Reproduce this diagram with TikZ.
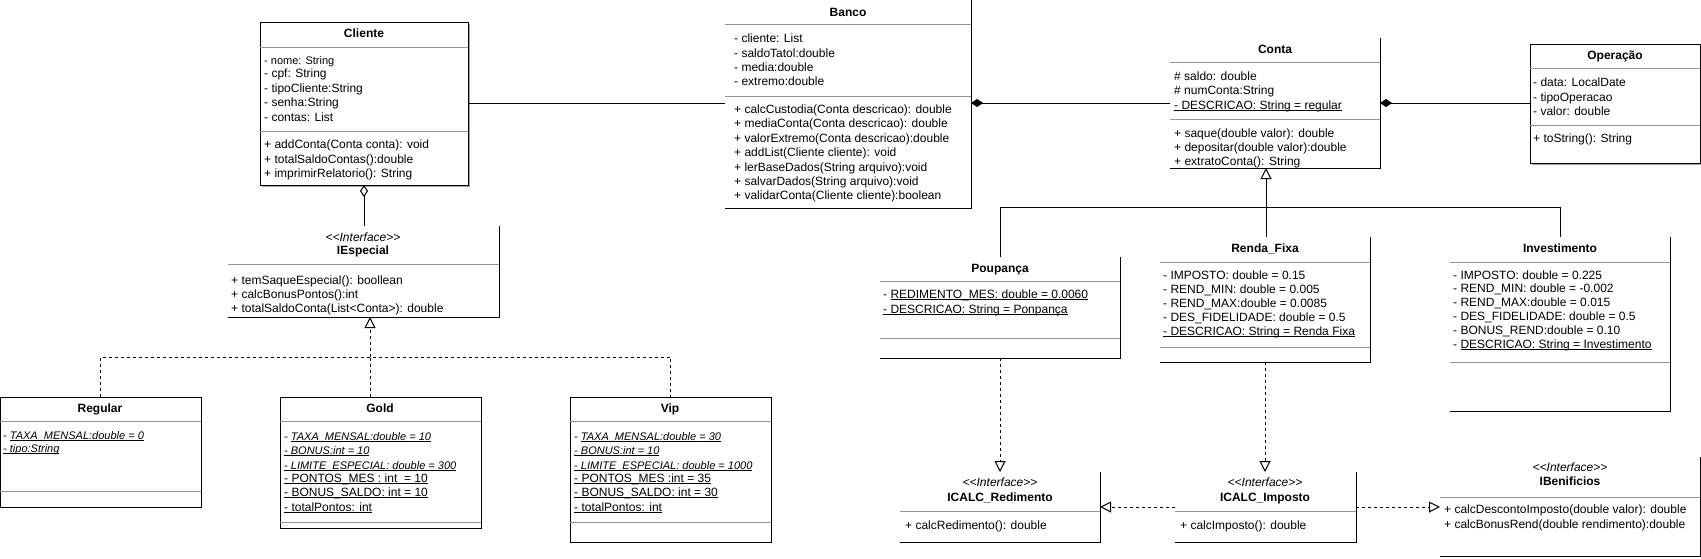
\documentclass[tikz,border=0pt]{standalone}
\usepackage{fontspec}
\setmainfont{Liberation Sans}
\usetikzlibrary{arrows.meta,calc}
\definecolor{sepc}{RGB}{150,150,150}
\definecolor{shad}{RGB}{165,165,165}
\newcounter{utc}
\newcommand\UT[4][txt]{\stepcounter{utc}\node[#1] (t\arabic{utc}) at (#2,#3) {#4};}
\newcommand\Fa{\fontsize{12}{14}\selectfont}
\newcommand\Fb{\fontsize{11}{13}\selectfont}
\newsavebox\ulbox
\newcommand\ul[1]{\sbox\ulbox{#1}\rlap{\rule[-1.8pt]{\wd\ulbox}{0.8pt}}\usebox\ulbox}
\newcommand\umlbox[5]{\node[clsbox,minimum width={(#4)-(#2)},minimum height={(#5)-(#3)}] (#1) at ({((#2)+(#4))/2},{((#3)+(#5))/2}) {};}
\newcommand\rbedge[1]{\draw[edge] (#1.north east) -- (#1.south east) -- (#1.south west);}
\newcommand\fulledge[1]{\draw[edge] (#1.north west) rectangle (#1.south east);}
\newcommand\shadowedge[1]{\draw[shad,line width=1.5pt] ($(#1.south west)+(2,1.6)$) -- ($(#1.south east)+(1.6,1.6)$) -- ($(#1.north east)+(1.6,2)$);}
\newcommand\sepat[2]{\draw[sepl] (#1.west |- 0,#2) -- (#1.east |- 0,#2);}
\newcommand\IF{<\kern0pt<Interface>\kern0pt>}
\tikzset{
 clsbox/.style={rectangle,draw=none,inner sep=0pt,outer sep=0pt},
 edge/.style={draw=black,line width=1pt},
 sepl/.style={draw=sepc,line width=1pt},
 txt/.style={font=\Fa,inner sep=0pt,anchor=base west},
 txtb/.style={font=\Fb,inner sep=0pt,anchor=base west},
 txts/.style={font=\Fb\itshape,inner sep=0pt,anchor=base west},
 ttl/.style={font=\Fa\bfseries,inner sep=0pt,anchor=base},
 ster/.style={font=\Fa\itshape,inner sep=0pt,anchor=base},
 conn/.style={draw=black,line width=1pt},
 dconn/.style={conn,dash pattern=on 3pt off 3pt},
 real/.style={-{Triangle[open,length=11pt,width=11pt]}},
 comp/.style={{Diamond[length=12pt,width=8pt]}-},
 aggr/.style={{Diamond[open,length=12pt,width=8pt]}-},
}
\begin{document}
\begin{tikzpicture}[x=1pt,y=-1pt]
\fill[white] (0,0) rectangle (1701,558);
\useasboundingbox (0,0) rectangle (1701,558);

% ---------- Cliente
\umlbox{cli}{260}{22}{468}{185}
\shadowedge{cli}
\fulledge{cli}
\sepat{cli}{47}
\sepat{cli}{131}
\UT[ttl]{364}{37}{Cliente}
\UT[txtb]{264}{64}{- nome: String}
\UT{264}{77}{- cpf: String}
\UT{264}{92}{- tipoCliente:String}
\UT{264}{106}{- senha:String}
\UT{264}{121}{- contas: List}
\UT{264}{148}{+ addConta(Conta conta): void}
\UT{264}{163}{+ totalSaldoContas():double}
\UT{264}{177}{+ imprimirRelatorio(): String}

% ---------- Banco
\umlbox{banco}{725}{0}{971}{208}
\rbedge{banco}
\sepat{banco}{24}
\sepat{banco}{96}
\UT[ttl]{848}{16}{Banco}
\UT{734}{42}{- cliente: List}
\UT{734}{57}{- saldoTatol:double}
\UT{734}{71}{- media:double}
\UT{734}{85}{- extremo:double}
\UT{734}{113}{+ calcCustodia(Conta descricao): double}
\UT{734}{127}{+ mediaConta(Conta descricao): double}
\UT{734}{142}{+ valorExtremo(Conta descricao):double}
\UT{734}{156}{+ addList(Cliente cliente): void}
\UT{734}{171}{+ lerBaseDados(String arquivo):void}
\UT{734}{185}{+ salvarDados(String arquivo):void}
\UT{734}{199}{+ validarConta(Cliente cliente):boolean}

% ---------- Conta
\umlbox{conta}{1170}{38}{1380}{168}
\rbedge{conta}
\sepat{conta}{62}
\sepat{conta}{119}
\UT[ttl]{1275}{53}{Conta}
\UT{1174}{80}{\# saldo: double}
\UT{1174}{94}{\# numConta:String}
\UT{1174}{109}{\ul{- DESCRICAO: String = regular}}
\UT{1174}{137}{+ saque(double valor): double}
\UT{1174}{151}{+ depositar(double valor):double}
\UT{1174}{165}{+ extratoConta(): String}

% ---------- Operacao
\umlbox{oper}{1530}{44}{1700}{163}
\shadowedge{oper}
\fulledge{oper}
\sepat{oper}{68}
\sepat{oper}{125}
\UT[ttl]{1615}{59}{Operação}
\UT{1533}{86}{- data: LocalDate}
\UT{1533}{101}{- tipoOperacao}
\UT{1533}{115}{- valor: double}
\UT{1533}{142}{+ toString(): String}

% ---------- IEspecial
\umlbox{iesp}{228}{226}{499}{317}
\rbedge{iesp}
\sepat{iesp}{264}
\UT[ster]{363}{241}{\IF}
\UT[ttl]{363}{254}{IEspecial}
\UT{231}{284}{+ temSaqueEspecial(): boollean}
\UT{231}{298}{+ calcBonusPontos():int}
\UT{231}{312}{+ totalSaldoConta(List<Conta>): double}

% ---------- Regular
\umlbox{reg}{0}{397}{201}{507}
\fulledge{reg}
\sepat{reg}{421}
\sepat{reg}{491}
\UT[ttl]{100}{412}{Regular}
\UT[txts]{3}{439}{- \ul{TAXA\_MENSAL:double = 0}}
\UT[txts]{3}{452}{\ul{- tipo:String}}

% ---------- Gold
\umlbox{gold}{280}{397}{481}{528}
\fulledge{gold}
\sepat{gold}{421}
\sepat{gold}{522}
\UT[ttl]{380}{412}{Gold}
\UT[txts]{284}{440}{- \ul{TAXA\_MENSAL:double = 10}}
\UT[txts]{284}{454}{\ul{- BONUS:int = 10}}
\UT[txts]{284}{469}{\ul{- LIMITE\_ESPECIAL: double = 300}}
\UT{284}{482}{\ul{- PONTOS\_MES : int\ \ = 10}}
\UT{284}{496}{\ul{- BONUS\_SALDO: int = 10}}
\UT{284}{511}{\ul{- totalPontos: int}}

% ---------- Vip
\umlbox{vip}{570}{397}{771}{542}
\fulledge{vip}
\sepat{vip}{421}
\sepat{vip}{522}
\UT[ttl]{670}{412}{Vip}
\UT[txts]{574}{440}{- \ul{TAXA\_MENSAL:double = 30}}
\UT[txts]{574}{454}{\ul{- BONUS:int = 10}}
\UT[txts]{574}{469}{\ul{- LIMITE\_ESPECIAL: double = 1000}}
\UT{574}{482}{\ul{- PONTOS\_MES :int = 35}}
\UT{574}{496}{\ul{- BONUS\_SALDO: int = 30}}
\UT{574}{511}{\ul{- totalPontos: int}}

% ---------- Poupanca
\umlbox{poup}{880}{257}{1120}{358}
\rbedge{poup}
\sepat{poup}{281}
\sepat{poup}{338}
\UT[ttl]{1000}{272}{Poupança}
\UT{883}{298}{- \ul{REDIMENTO\_MES: double = 0.0060}}
\UT{883}{313}{\ul{- DESCRICAO: String = Ponpança}}

% ---------- Renda_Fixa
\umlbox{rf}{1160}{237}{1370}{362}
\rbedge{rf}
\sepat{rf}{262}
\sepat{rf}{347}
\UT[ttl]{1265}{252}{Renda\_Fixa}
\UT{1163}{279}{- IMPOSTO: double = 0.15}
\UT{1163}{293}{- REND\_MIN: double = 0.005}
\UT{1163}{307}{- REND\_MAX:double = 0.0085}
\UT{1163}{321}{- DES\_FIDELIDADE: double = 0.5}
\UT{1163}{335}{\ul{- DESCRICAO: String = Renda Fixa}}

% ---------- Investimento
\umlbox{inv}{1450}{237}{1670}{411}
\rbedge{inv}
\sepat{inv}{262}
\sepat{inv}{362}
\UT[ttl]{1560}{252}{Investimento}
\UT{1453}{279}{- IMPOSTO: double = 0.225}
\UT{1453}{292}{- REND\_MIN: double = -0.002}
\UT{1453}{306}{- REND\_MAX:double = 0.015}
\UT{1453}{320}{- DES\_FIDELIDADE: double = 0.5}
\UT{1453}{334}{- BONUS\_REND:double = 0.10}
\UT{1453}{348}{- \ul{DESCRICAO: String = Investimento}}

% ---------- ICALC_Redimento
\umlbox{icr}{900}{472}{1100}{542}
\rbedge{icr}
\sepat{icr}{511}
\UT[ster]{1000}{486}{\IF}
\UT[ttl]{1000}{501}{ICALC\_Redimento}
\UT{905}{529}{+ calcRedimento(): double}

% ---------- ICALC_Imposto
\umlbox{ici}{1175}{472}{1356}{542}
\rbedge{ici}
\sepat{ici}{511}
\UT[ster]{1265}{486}{\IF}
\UT[ttl]{1265}{501}{ICALC\_Imposto}
\UT{1180}{529}{+ calcImposto(): double}

% ---------- IBenificios
\umlbox{iben}{1440}{457}{1700}{556}
\rbedge{iben}
\sepat{iben}{497}
\UT[ster]{1570}{471}{\IF}
\UT[ttl]{1570}{485}{IBenificios}
\UT{1444}{513}{+ calcDescontoImposto(double valor): double}
\UT{1444}{528}{+ calcBonusRend(double rendimento):double}

% ---------- connectors
\coordinate (cinh) at (1266,207);
\coordinate (ij) at (370,357);
% Cliente -- Banco
\draw[conn] (cli.east) -- (cli.east -| banco.west);
% Banco <>-- Conta (composition)
\draw[conn,comp] (conta.west -| banco.east) -- (conta.west);
% Conta <>-- Operacao (composition)
\draw[conn,comp] (conta.east) -- (conta.east -| oper.west);
% Cliente <>-- IEspecial (aggregation)
\draw[conn,aggr] (cli.south) -- (cli.south |- iesp.north);
% generalization to Conta
\draw[conn,real] (cinh) -- (cinh |- conta.south);
\draw[conn] (poup.north) |- (inv.north |- cinh) -- (inv.north);
\draw[conn] (rf.north -| cinh) -- (cinh);
% realization of IEspecial
\draw[dconn,real] (ij) -- (ij |- iesp.south);
\draw[dconn] (reg.north) |- (vip.north |- ij) -- (vip.north);
\draw[dconn] (gold.north -| ij) -- (ij);
% realizations at the bottom
\draw[dconn,real] (poup.south) -- (icr.north);
\draw[dconn,real] (rf.south) -- (rf.south |- ici.north);
\draw[dconn,real] (ici.west) -- (icr.east);
\draw[dconn,real] (ici.east) -- (ici.east -| iben.west);
\end{tikzpicture}
\end{document}
